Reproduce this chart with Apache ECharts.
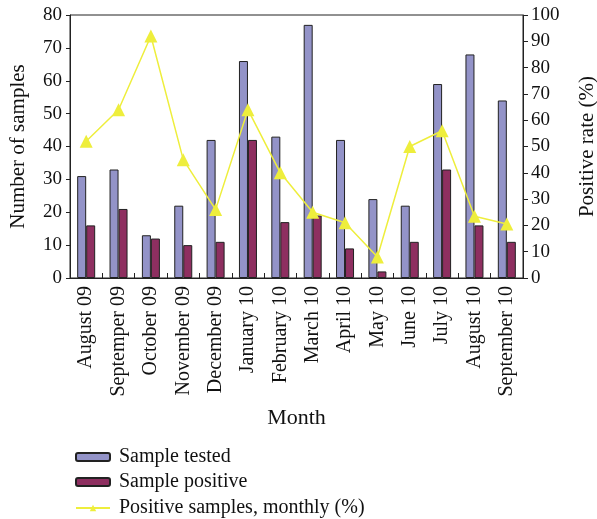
<!DOCTYPE html>
<html>
<head>
<meta charset="utf-8">
<script src="https://cdn.jsdelivr.net/npm/echarts@6/dist/echarts.min.js"></script>
<style>
  html, body { margin: 0; padding: 0; background: #fff; }
  #chart { width: 597px; height: 519px; }
</style>
</head>
<body>
<div id="chart"></div>
<script>
// months on the x axis (label text as printed)
const months = ['August 09', 'Septemper 09', 'October 09', 'November 09', 'December 09',
  'January 10', 'February 10', 'March 10', 'April 10', 'May 10', 'June 10',
  'July 10', 'August 10', 'September 10']
// counts
const sampleTested = [31, 33, 13, 22, 42, 66, 43, 77, 42, 24, 22, 59, 68, 54]
const samplePositive = [16, 21, 12, 10, 11, 42, 17, 19, 9, 2, 11, 33, 16, 11]
// positive rate
const positiveRate = [52, 64, 92, 45, 26, 64, 40, 25, 21, 8, 50, 56, 23.5, 20.5]
const seriesNames = ['Sample tested', 'Sample positive', 'Positive samples, monthly (%)']

const chart = echarts.init(document.getElementById('chart'))
const font = 'Liberation Serif'
const axisLine = { show: true, lineStyle: { color: '#222', width: 1 } }

// one legend per row, stacked under the chart
const legendTops = [442, 467, 493]
const legends = seriesNames.map((name, i) => ({
  left: 70, top: legendTops[i],
  itemWidth: 34, itemHeight: 8, itemGap: 14,
  textStyle: { fontFamily: font, fontSize: 20, color: '#111', padding: [0, 0, 0, 4] },
  data: [name]
}))

const option = {
  animation: false,
  textStyle: { fontFamily: font },
  grid: {
    left: 70, right: 74, top: 15, bottom: 241,
    outerBoundsMode: 'none',
    show: true, borderColor: '#222', borderWidth: 1
  },
  legend: legends,
  xAxis: {
    type: 'category',
    data: months,
    name: 'Month',
    nameLocation: 'middle',
    nameGap: 129,
    nameTextStyle: { fontSize: 22, color: '#111' },
    axisLine: axisLine,
    axisTick: { show: true, inside: true, length: 5, lineStyle: { color: '#222' } },
    axisLabel: { rotate: 90, fontSize: 20, color: '#111', interval: 0, margin: 8 }
  },
  yAxis: [
    {
      type: 'value', min: 0, max: 80, interval: 10,
      name: 'Number of samples',
      nameLocation: 'middle', nameRotate: 90, nameGap: 41,
      nameTextStyle: { fontSize: 21, color: '#111' },
      axisLine: axisLine,
      axisTick: { show: true, length: 4, lineStyle: { color: '#222' } },
      axisLabel: { fontSize: 19, color: '#111', margin: 8 },
      splitLine: { show: false }
    },
    {
      type: 'value', min: 0, max: 100, interval: 10,
      name: 'Positive rate (%)',
      nameLocation: 'middle', nameRotate: 90, nameGap: 54,
      nameTextStyle: { fontSize: 21, color: '#111' },
      axisLine: axisLine,
      axisTick: { show: true, length: 5, lineStyle: { color: '#222' } },
      axisLabel: { fontSize: 19, color: '#111', margin: 8 },
      splitLine: { show: false }
    }
  ],
  series: [
    {
      name: seriesNames[0],
      type: 'bar',
      data: sampleTested,
      barWidth: 9,
      barGap: '0%',
      itemStyle: { color: '#9393c8', borderColor: '#222', borderWidth: 1 }
    },
    {
      name: seriesNames[1],
      type: 'bar',
      data: samplePositive,
      barWidth: 9,
      itemStyle: { color: '#8e2f60', borderColor: '#222', borderWidth: 1 }
    },
    {
      name: seriesNames[2],
      type: 'line',
      yAxisIndex: 1,
      data: positiveRate,
      symbol: 'triangle',
      symbolSize: 13,
      lineStyle: { color: '#eeee3c', width: 1.5 },
      itemStyle: { color: '#eeee3c' },
      z: 5
    }
  ]
}

chart.setOption(option)
</script>
</body>
</html>
